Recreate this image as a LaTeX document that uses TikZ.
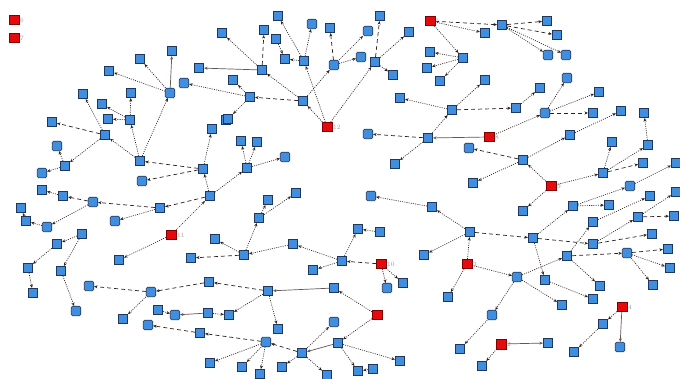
\documentclass[tikz,border=0pt]{standalone}
\usetikzlibrary{arrows.meta}
\definecolor{nblue}{RGB}{66,142,222}
\definecolor{nedge}{RGB}{30,55,95}
\definecolor{nred}{RGB}{228,10,14}
\definecolor{ecol}{RGB}{45,32,28}
\tikzset{
  bn/.style={rectangle,minimum size=9.5pt,inner sep=0pt,fill=nblue,draw=nedge,line width=0.6pt},
  rn/.style={bn,rounded corners=1.3pt},
  rdn/.style={rectangle,minimum size=9.5pt,inner sep=0pt,fill=nred,draw=red!50!black,line width=0.5pt},
  lbl/.style={font=\fontsize{6.5}{6.5}\selectfont,text=gray!80,inner sep=1pt},
  ed/.style={draw=ecol,line width=0.65pt,dash pattern=on 1pt off 1.2pt,-{Stealth[length=3.5pt,width=3pt]}},
  es/.style={draw=ecol,line width=0.7pt,dash pattern=on 4pt off 3pt,-{Stealth[length=3.5pt,width=3pt]}},
  el/.style={draw=ecol!75,line width=0.7pt,-{Stealth[length=3.5pt,width=3pt]}}
}
\begin{document}
\begin{tikzpicture}[x=1pt,y=-1pt]
\fill[white] (0,0) rectangle (680,379);
\useasboundingbox (0,0) rectangle (680,379);
% red nodes
\node[rdn,label={[lbl]right:6}] (p14y20) at (14,20) {};
\node[rdn,label={[lbl]right:7}] (p14y38) at (14,38) {};
\node[rdn,label={[lbl]right:5}] (p430y21) at (430,21) {};
\node[rdn,label={[lbl]right:12}] (p327y127) at (327,127) {};
\node[rdn,label={[lbl]right:8}] (p489y137) at (489,137) {};
\node[rdn,label={[lbl]right:9}] (p551y186) at (551,186) {};
\node[rdn,label={[lbl]right:11}] (p171y235) at (171,235) {};
\node[rdn,label={[lbl]right:10}] (p381y264) at (381,264) {};
\node[rdn,label={[lbl]right:3}] (p467y264) at (467,264) {};
\node[rdn,label={[lbl]right:4}] (p622y307) at (622,307) {};
\node[rdn] (p377y315) at (377,315) {};
\node[rdn,label={[lbl]right:2}] (p501y344) at (501,344) {};
% top-left
\node[bn] (p222y33) at (222,33) {};
\node[bn] (p172y51) at (172,51) {};
\node[bn] (p140y59) at (140,59) {};
\node[bn] (p199y68) at (199,68) {};
\node[bn] (p109y71) at (109,71) {};
\node[rn] (p184y83) at (184,83) {};
\node[rn] (p170y93) at (170,93) {};
\node[bn] (p83y94) at (83,94) {};
\node[bn] (p131y93) at (131,93) {};
\node[bn] (p102y104) at (102,104) {};
\node[bn] (p108y119) at (108,119) {};
\node[bn] (p130y120) at (130,120) {};
\node[bn] (p52y122) at (52,122) {};
\node[bn] (p226y120) at (226,120) {};
\node[bn] (p212y129) at (212,129) {};
\node[bn] (p105y135) at (105,135) {};
\node[rn] (p57y146) at (57,146) {};
\node[bn] (p65y166) at (65,166) {};
\node[rn] (p42y173) at (42,173) {};
\node[bn] (p140y161) at (140,161) {};
\node[bn] (p203y169) at (203,169) {};
\node[rn] (p142y181) at (142,181) {};
\node[bn] (p42y190) at (42,190) {};
\node[bn] (p63y196) at (63,196) {};
\node[rn] (p93y202) at (93,202) {};
\node[bn] (p210y196) at (210,196) {};
\node[bn] (p160y208) at (160,208) {};
\node[bn] (p21y208) at (21,208) {};
\node[bn] (p26y221) at (26,221) {};
\node[rn] (p47y227) at (47,227) {};
\node[rn] (p115y221) at (115,221) {};
\node[bn] (p82y234) at (82,234) {};
\node[bn] (p57y244) at (57,244) {};
\node[bn] (p28y268) at (28,268) {};
\node[bn] (p33y293) at (33,293) {};
\node[bn] (p61y271) at (61,271) {};
\node[rn] (p76y311) at (76,311) {};
\node[bn] (p119y260) at (119,260) {};
\node[bn] (p215y239) at (215,239) {};
\node[bn] (p191y258) at (191,258) {};
\node[bn] (p209y282) at (209,282) {};
\node[rn] (p89y286) at (89,286) {};
\node[rn] (p151y292) at (151,292) {};
\node[bn] (p123y319) at (123,319) {};
\node[bn] (p158y310) at (158,310) {};
\node[rn] (p175y315) at (175,315) {};
\node[bn] (p208y313) at (208,313) {};
\node[bn] (p228y315) at (229,315) {};
\node[rn] (p148y325) at (148,325) {};
\node[bn] (p200y333) at (200,333) {};
\node[bn] (p210y363) at (210,363) {};
% top-middle
\node[bn] (p278y16) at (278,16) {};
\node[bn] (p264y30) at (264,30) {};
\node[rn] (p312y24) at (312,24) {};
\node[bn] (p330y28) at (330,28) {};
\node[bn] (p380y16) at (380,16) {};
\node[rn] (p368y31) at (368,31) {};
\node[bn] (p409y32) at (409,32) {};
\node[bn] (p276y39) at (276,39) {};
\node[bn] (p285y59) at (285,59) {};
\node[bn] (p304y61) at (304,61) {};
\node[bn] (p262y70) at (262,70) {};
\node[rn] (p334y65) at (334,65) {};
\node[rn] (p361y57) at (361,57) {};
\node[bn] (p375y62) at (375,62) {};
\node[bn] (p393y75) at (393,75) {};
\node[bn] (p430y52) at (430,52) {};
\node[bn] (p427y68) at (427,68) {};
\node[bn] (p440y81) at (440,81) {};
\node[bn] (p463y58) at (463,58) {};
\node[bn] (p233y80) at (233,80) {};
\node[bn] (p250y97) at (250,97) {};
\node[bn] (p303y101) at (303,101) {};
\node[bn] (p228y119) at (228,119) {};
\node[bn] (p400y98) at (400,98) {};
\node[bn] (p452y110) at (452,110) {};
\node[bn] (p428y138) at (428,138) {};
\node[rn] (p368y134) at (368,134) {};
\node[bn] (p395y164) at (395,164) {};
\node[bn] (p241y141) at (241,141) {};
\node[bn] (p257y142) at (257,142) {};
\node[bn] (p247y168) at (247,168) {};
\node[rn] (p285y157) at (285,157) {};
% top-right
\node[bn] (p502y25) at (502,25) {};
\node[bn] (p547y21) at (547,21) {};
\node[bn] (p485y33) at (485,33) {};
\node[bn] (p557y35) at (557,35) {};
\node[rn] (p548y55) at (548,55) {};
\node[rn] (p566y55) at (566,55) {};
\node[bn] (p485y80) at (485,80) {};
\node[bn] (p540y88) at (540,88) {};
\node[rn] (p567y78) at (567,78) {};
\node[bn] (p599y92) at (599,92) {};
\node[bn] (p516y108) at (516,108) {};
\node[rn] (p545y113) at (545,113) {};
\node[bn] (p593y113) at (593,113) {};
\node[bn] (p621y111) at (621,111) {};
\node[bn] (p644y113) at (644,113) {};
\node[bn] (p570y135) at (570,135) {};
\node[rn] (p469y148) at (469,148) {};
\node[bn] (p523y160) at (523,160) {};
\node[bn] (p612y142) at (612,142) {};
\node[bn] (p648y145) at (648,145) {};
\node[bn] (p643y163) at (643,163) {};
\node[bn] (p603y173) at (603,173) {};
\node[bn] (p473y183) at (473,183) {};
\node[rn] (p630y186) at (630,186) {};
\node[bn] (p676y163) at (676,163) {};
% middle / bottom
\node[bn] (p296y193) at (296,193) {};
\node[bn] (p268y200) at (268,200) {};
\node[bn] (p259y218) at (259,218) {};
\node[rn] (p371y196) at (371,196) {};
\node[bn] (p432y207) at (432,207) {};
\node[bn] (p358y229) at (358,229) {};
\node[bn] (p380y232) at (380,232) {};
\node[bn] (p244y255) at (244,255) {};
\node[bn] (p293y244) at (293,244) {};
\node[bn] (p342y261) at (342,261) {};
\node[bn] (p313y270) at (313,270) {};
\node[rn] (p387y288) at (387,288) {};
\node[bn] (p403y283) at (403,283) {};
\node[bn] (p424y255) at (424,255) {};
\node[bn] (p447y297) at (448,297) {};
\node[bn] (p268y291) at (268,291) {};
\node[bn] (p334y288) at (334,288) {};
\node[bn] (p278y329) at (278,329) {};
\node[rn] (p334y322) at (334,322) {};
\node[rn] (p266y342) at (266,342) {};
\node[bn] (p338y343) at (338,343) {};
\node[bn] (p302y353) at (302,353) {};
\node[bn] (p242y367) at (242,367) {};
\node[bn] (p260y374) at (260,374) {};
\node[bn] (p282y367) at (282,367) {};
\node[bn] (p327y376) at (327,375) {};
\node[bn] (p358y371) at (358,371) {};
\node[bn] (p373y369) at (373,369) {};
\node[bn] (p400y361) at (400,361) {};
% right-bottom
\node[bn] (p523y211) at (523,211) {};
\node[bn] (p573y206) at (573,206) {};
\node[bn] (p609y205) at (609,205) {};
\node[bn] (p650y196) at (650,196) {};
\node[bn] (p676y192) at (676,192) {};
\node[bn] (p674y216) at (674,216) {};
\node[bn] (p593y222) at (593,222) {};
\node[bn] (p638y217) at (638,217) {};
\node[bn] (p652y234) at (652,234) {};
\node[bn] (p470y232) at (470,232) {};
\node[bn] (p533y238) at (533,238) {};
\node[bn] (p593y244) at (593,244) {};
\node[bn] (p567y256) at (567,256) {};
\node[rn] (p627y253) at (627,253) {};
\node[bn] (p668y249) at (668,249) {};
\node[bn] (p670y268) at (670,268) {};
\node[rn] (p517y277) at (517,277) {};
\node[bn] (p545y280) at (545,280) {};
\node[bn] (p600y286) at (600,286) {};
\node[bn] (p653y285) at (653,285) {};
\node[bn] (p593y299) at (593,299) {};
\node[bn] (p562y305) at (562,305) {};
\node[rn] (p492y315) at (492,315) {};
\node[bn] (p603y324) at (603,324) {};
\node[rn] (p620y347) at (620,347) {};
\node[bn] (p460y349) at (460,349) {};
\node[bn] (p548y343) at (548,343) {};
\node[bn] (p574y352) at (574,352) {};
\node[bn] (p482y366) at (482,366) {};
% edges
\draw[ed] (p170y93) -- (p109y71);
\draw[ed] (p170y93) -- (p140y59);
\draw[el] (p170y93) -- (p172y51);
\draw[ed] (p250y97) -- (p184y83);
\draw[es] (p303y101) -- (p250y97);
\draw[ed] (p250y97) -- (p228y119);
\draw[ed] (p250y97) -- (p233y80);
\draw[el] (p262y70) -- (p199y68);
\draw[ed] (p262y70) -- (p222y33);
\draw[es] (p262y70) -- (p264y30);
\draw[ed] (p303y101) -- (p262y70);
\draw[ed] (p327y127) -- (p303y101);
\draw[ed] (p327y127) -- (p304y61);
\draw[ed] (p327y127) -- (p375y62);
\draw[ed] (p303y101) -- (p334y65);
\draw[ed] (p334y65) -- (p361y57);
\draw[es] (p334y65) -- (p330y28);
\draw[ed] (p334y65) -- (p368y31);
\draw[ed] (p304y61) -- (p312y24);
\draw[ed] (p304y61) -- (p278y16);
\draw[ed] (p304y61) -- (p285y59);
\draw[ed] (p276y39) -- (p285y59);
\draw[es] (p375y62) -- (p380y16);
\draw[ed] (p375y62) -- (p409y32);
\draw[ed] (p375y62) -- (p393y75);
\draw[es] (p430y21) -- (p502y25);
\draw[ed] (p430y21) -- (p485y33);
\draw[ed] (p430y21) -- (p463y58);
\draw[ed] (p463y58) -- (p430y52);
\draw[ed] (p463y58) -- (p427y68);
\draw[ed] (p463y58) -- (p440y81);
\draw[es] (p502y25) -- (p547y21);
\draw[es] (p502y25) -- (p557y35);
\draw[ed] (p502y25) -- (p548y55);
\draw[ed] (p502y25) -- (p566y55);
\draw[ed] (p452y110) -- (p485y80);
\draw[es] (p452y110) -- (p516y108);
\draw[ed] (p452y110) -- (p400y98);
\draw[ed] (p428y138) -- (p452y110);
\draw[es] (p428y138) -- (p368y134);
\draw[ed] (p428y138) -- (p395y164);
\draw[el] (p489y137) -- (p428y138);
\draw[ed] (p489y137) -- (p545y113);
\draw[ed] (p545y113) -- (p567y78);
\draw[ed] (p545y113) -- (p599y92);
\draw[ed] (p516y108) -- (p540y88);
\draw[es] (p545y113) -- (p593y113);
\draw[es] (p523y160) -- (p469y148);
\draw[ed] (p523y160) -- (p570y135);
\draw[ed] (p523y160) -- (p473y183);
\draw[ed] (p570y135) -- (p621y111);
\draw[ed] (p551y186) -- (p523y160);
\draw[ed] (p551y186) -- (p603y173);
\draw[ed] (p551y186) -- (p523y211);
\draw[ed] (p603y173) -- (p612y142);
\draw[es] (p603y173) -- (p643y163);
\draw[ed] (p603y173) -- (p648y145);
\draw[ed] (p648y145) -- (p644y113);
\draw[ed] (p630y186) -- (p676y163);
\draw[ed] (p573y206) -- (p630y186);
\draw[ed] (p573y206) -- (p609y205);
\draw[ed] (p533y238) -- (p573y206);
\draw[es] (p470y232) -- (p533y238);
\draw[es] (p533y238) -- (p593y244);
\draw[ed] (p533y238) -- (p545y280);
\draw[ed] (p545y280) -- (p593y299);
\draw[ed] (p593y244) -- (p638y217);
\draw[es] (p593y244) -- (p652y234);
\draw[ed] (p638y217) -- (p676y192);
\draw[es] (p638y217) -- (p674y216);
\draw[ed] (p567y256) -- (p593y222);
\draw[ed] (p593y222) -- (p650y196);
\draw[es] (p567y256) -- (p627y253);
\draw[ed] (p567y256) -- (p600y286);
\draw[ed] (p517y277) -- (p567y256);
\draw[es] (p627y253) -- (p668y249);
\draw[ed] (p627y253) -- (p670y268);
\draw[ed] (p627y253) -- (p653y285);
\draw[ed] (p467y264) -- (p470y232);
\draw[ed] (p470y232) -- (p432y207);
\draw[ed] (p432y207) -- (p371y196);
\draw[ed] (p470y232) -- (p424y255);
\draw[ed] (p467y264) -- (p517y277);
\draw[ed] (p467y264) -- (p447y297);
\draw[ed] (p517y277) -- (p492y315);
\draw[ed] (p517y277) -- (p562y305);
\draw[ed] (p492y315) -- (p460y349);
\draw[ed] (p501y344) -- (p482y366);
\draw[el] (p501y344) -- (p548y343);
\draw[el] (p622y307) -- (p620y347);
\draw[ed] (p622y307) -- (p603y324);
\draw[ed] (p603y324) -- (p574y352);
\draw[ed] (p140y161) -- (p105y135);
\draw[ed] (p140y161) -- (p130y120);
\draw[ed] (p140y161) -- (p170y93);
\draw[ed] (p130y120) -- (p131y93);
\draw[ed] (p130y120) -- (p108y119);
\draw[ed] (p130y120) -- (p102y104);
\draw[es] (p105y135) -- (p52y122);
\draw[ed] (p105y135) -- (p83y94);
\draw[ed] (p105y135) -- (p65y166);
\draw[ed] (p65y166) -- (p57y146);
\draw[ed] (p65y166) -- (p42y173);
\draw[es] (p203y169) -- (p140y161);
\draw[es] (p203y169) -- (p142y181);
\draw[ed] (p203y169) -- (p212y129);
\draw[ed] (p210y196) -- (p203y169);
\draw[ed] (p210y196) -- (p247y168);
\draw[ed] (p247y168) -- (p241y141);
\draw[ed] (p247y168) -- (p257y142);
\draw[ed] (p247y168) -- (p285y157);
\draw[ed] (p171y235) -- (p210y196);
\draw[es] (p210y196) -- (p160y208);
\draw[es] (p160y208) -- (p93y202);
\draw[ed] (p160y208) -- (p115y221);
\draw[es] (p93y202) -- (p63y196);
\draw[ed] (p63y196) -- (p42y190);
\draw[ed] (p93y202) -- (p47y227);
\draw[ed] (p47y227) -- (p26y221);
\draw[ed] (p26y221) -- (p21y208);
\draw[ed] (p82y234) -- (p57y244);
\draw[ed] (p82y234) -- (p61y271);
\draw[ed] (p57y244) -- (p28y268);
\draw[ed] (p28y268) -- (p33y293);
\draw[ed] (p61y271) -- (p76y311);
\draw[ed] (p171y235) -- (p119y260);
\draw[ed] (p244y255) -- (p215y239);
\draw[es] (p244y255) -- (p191y258);
\draw[ed] (p244y255) -- (p259y218);
\draw[ed] (p259y218) -- (p268y200);
\draw[ed] (p259y218) -- (p296y193);
\draw[ed] (p293y244) -- (p244y255);
\draw[ed] (p342y261) -- (p293y244);
\draw[ed] (p342y261) -- (p313y270);
\draw[ed] (p342y261) -- (p358y229);
\draw[ed] (p380y232) -- (p358y229);
\draw[es] (p381y264) -- (p342y261);
\draw[ed] (p381y264) -- (p387y288);
\draw[ed] (p381y264) -- (p403y283);
\draw[el] (p334y288) -- (p268y291);
\draw[es] (p268y291) -- (p209y282);
\draw[es] (p209y282) -- (p151y292);
\draw[es] (p151y292) -- (p89y286);
\draw[ed] (p151y292) -- (p123y319);
\draw[ed] (p268y291) -- (p228y315);
\draw[ed] (p268y291) -- (p278y329);
\draw[ed] (p377y315) -- (p334y288);
\draw[ed] (p377y315) -- (p338y343);
\draw[el] (p338y343) -- (p302y353);
\draw[ed] (p338y343) -- (p358y371);
\draw[ed] (p338y343) -- (p400y361);
\draw[ed] (p373y369) -- (p358y371);
\draw[es] (p302y353) -- (p266y342);
\draw[ed] (p302y353) -- (p282y367);
\draw[ed] (p302y353) -- (p327y376);
\draw[ed] (p302y353) -- (p334y322);
\draw[ed] (p266y342) -- (p242y367);
\draw[ed] (p266y342) -- (p260y374);
\draw[es] (p266y342) -- (p200y333);
\draw[ed] (p266y342) -- (p210y363);
\draw[es] (p200y333) -- (p148y325);
\draw[el] (p208y313) -- (p175y315);
\draw[ed] (p158y310) -- (p175y315);
\draw[ed] (p208y313) -- (p228y315);
\end{tikzpicture}
\end{document}
